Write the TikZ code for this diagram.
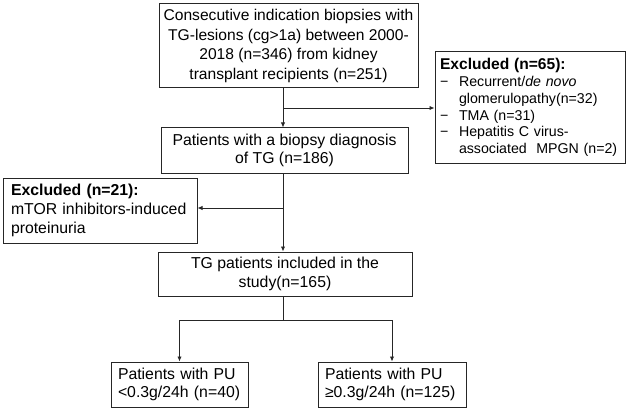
\documentclass[tikz,border=0pt]{standalone}
\usepackage{fontspec}
\setmainfont{Liberation Sans}
\usetikzlibrary{arrows.meta}

\newcommand{\dashitem}{\makebox[19pt][l]{−}}
\newcommand{\dashgap}{\hspace*{19pt}}

\begin{document}
\begin{tikzpicture}[x=1pt,y=-1pt,
    box/.style={draw=black!85,line width=1pt,rectangle,inner sep=0pt,
        font=\fontsize{15.8}{18.6}\selectfont},
    leftbox/.style={box,align=left,inner xsep=7pt},
    conn/.style={line width=0.9pt,draw=black!85},
    arr/.style={conn,-{Latex[length=5pt,width=4.5pt]}}]
    \useasboundingbox (0,0) rectangle (630,412);
    % boxes
    \node[box,align=center,minimum width=259pt,minimum height=84pt,
        font=\fontsize{15.6}{19.6}\selectfont] (bx1) at (288.5,46)
        {Consecutive indication biopsies with\\TG-lesions (cg>1a) between 2000-\\2018 (n=346) from kidney\\transplant recipients (n=251)};
    \node[box,align=center,minimum width=247pt,minimum height=45pt] (bx2) at (284.5,150.5)
        {Patients with a biopsy diagnosis\\of TG (n=186)};
    \node[leftbox,text width=180pt,inner xsep=5pt,minimum height=111pt,
        font=\fontsize{14.2}{16.7}\selectfont] (ex1) at (530,107.5)
        {{\fontsize{15.6}{17}\selectfont\bfseries Excluded (n=65):}\\
         \dashitem Recurrent/\textit{de novo}\\
         \dashgap glomerulopathy(n=32)\\
         \dashitem TMA (n=31)\\
         \dashitem Hepatitis C virus-\\
         \dashgap associated\ \ MPGN (n=2)};
    \node[leftbox,text width=178pt,minimum height=65pt,inner xsep=8pt] (ex2) at (100,210.5)
        {\textbf{Excluded (n=21):}\\mTOR inhibitors-induced\\proteinuria};
    \node[box,align=center,minimum width=254pt,minimum height=44pt] (bx3) at (285,274)
        {TG patients included in the\\study(n=165)};
    \node[leftbox,text width=123pt,minimum height=45pt] (bx5) at (179.5,384.5)
        {Patients with PU\\<0.3g/24h (n=40)};
    \node[leftbox,text width=134pt,minimum height=45pt] (bx6) at (392,384.5)
        {Patients with PU\\≥0.3g/24h (n=125)};
    % joints
    \coordinate (j1) at (283,108);
    \coordinate (j2) at (283,208);
    \coordinate (j3) at (283,320);
    % connectors
    \draw[arr] (bx1.south -| j1) -- (bx2.north -| j1);
    \draw[arr] (j1) -- (ex1.west |- j1);
    \draw[arr] (bx2.south -| j2) -- (bx3.north -| j2);
    \draw[arr] (j2) -- (ex2.east |- j2);
    \draw[conn] (bx3.south -| j3) -- (j3);
    \draw[arr] (j3) -| (bx5.north);
    \draw[arr] (j3) -| (bx6.north);
\end{tikzpicture}
\end{document}
